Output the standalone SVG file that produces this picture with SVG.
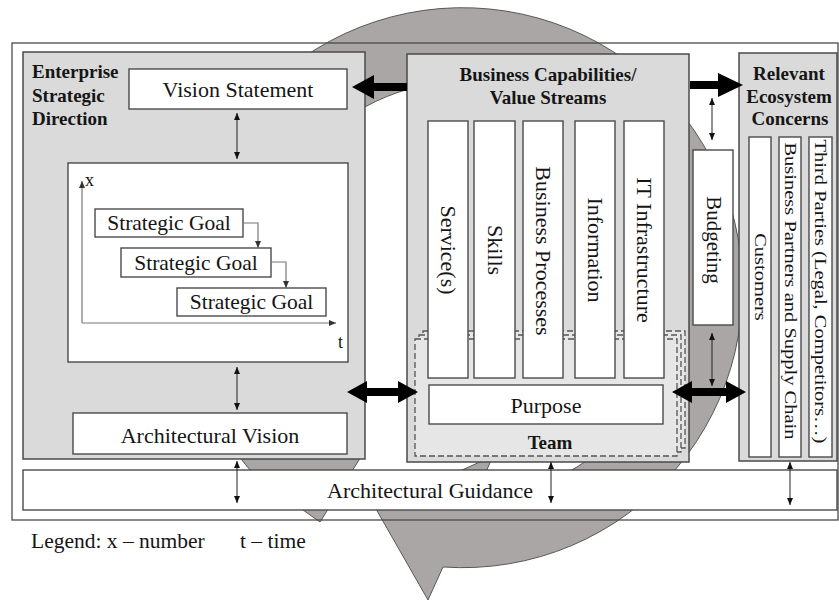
<svg xmlns="http://www.w3.org/2000/svg" width="839" height="602" viewBox="0 0 839 602">
<defs>
<style>
.panel{fill:#dadada;stroke:#4a4a4a;stroke-width:1.5}
.box{fill:#ffffff;stroke:#4a4a4a;stroke-width:1.4}
.t{font-family:"Liberation Serif","Times New Roman",serif;fill:#151515}
.h{font-family:"Liberation Serif","Times New Roman",serif;font-weight:bold;font-size:19px;fill:#151515}
.thin{stroke:#222;stroke-width:1;fill:none;marker-start:url(#ah);marker-end:url(#ah)}
.ax{stroke:#777;stroke-width:1.2;fill:none;marker-end:url(#ag)}
.dash{fill:#e6e6e6;stroke:#555;stroke-width:1.3;stroke-dasharray:6 3}
</style>
<marker id="ah" markerUnits="userSpaceOnUse" markerWidth="8" markerHeight="8" refX="7" refY="3" orient="auto-start-reverse"><path d="M0,0 L7,3 L0,6 z" fill="#111"/></marker>
<marker id="ag" markerUnits="userSpaceOnUse" markerWidth="8" markerHeight="8" refX="7" refY="3" orient="auto"><path d="M0,0 L7,3 L0,6 z" fill="#333"/></marker>
</defs>
<rect width="839" height="602" fill="#ffffff"/>

<g id="cycle-ring">
<path d="M443,567 A280,280 0 1 0 280,500 L296,505 L320,522 L364,452 L337,455 A209,209 0 1 1 474,499 L493,456 L376,509 L428,600 Z" fill="#aaa6a5" stroke="#4a4a4a" stroke-width="0.9"/>
</g>

<g id="frame">
<rect x="12" y="43" width="826" height="477" fill="none" stroke="#4a4a4a" stroke-width="1.3"/>
</g>

<g id="enterprise-strategic-direction">
<rect class="panel" x="23" y="52" width="342" height="407"/>
<text class="h" x="32" y="78">Enterprise</text>
<text class="h" x="32" y="102">Strategic</text>
<text class="h" x="32" y="125">Direction</text>
</g>
<g id="vision-statement">
<rect class="box" x="129" y="69" width="218" height="40"/>
<text class="t" x="238" y="97" font-size="22" text-anchor="middle">Vision Statement</text>
</g>
<g id="strategic-goals">
<rect class="box" x="68" y="163" width="280" height="199"/>
<path class="ax" d="M82,323 L82,181"/>
<path class="ax" d="M82,323 L336,323"/>
<text class="t" x="85" y="186" font-size="18">x</text>
<text class="t" x="338" y="348" font-size="18">t</text>
<rect class="box" x="95" y="209" width="148" height="28"/>
<text class="t" x="169" y="230" font-size="21.5" text-anchor="middle">Strategic Goal</text>
<rect class="box" x="121" y="248" width="150" height="29"/>
<text class="t" x="196" y="270" font-size="21.5" text-anchor="middle">Strategic Goal</text>
<rect class="box" x="177" y="288" width="149" height="28"/>
<text class="t" x="251.5" y="309" font-size="21.5" text-anchor="middle">Strategic Goal</text>
<path class="ax" d="M243,223 L258,223 L258,248"/>
<path class="ax" d="M271,262 L286,262 L286,288"/>
</g>
<g id="architectural-vision">
<rect class="box" x="73" y="413" width="274" height="41"/>
<text class="t" x="210" y="443" font-size="22" text-anchor="middle">Architectural Vision</text>
</g>

<g id="business-capabilities">
<rect class="panel" x="407" y="54" width="282" height="408"/>
<text class="h" x="548" y="81" text-anchor="middle">Business Capabilities/</text>
<text class="h" x="548" y="104" text-anchor="middle">Value Streams</text>
</g>
<g id="team">
<rect class="dash" x="423" y="331" width="262" height="117"/>
<rect class="dash" x="419" y="335" width="262" height="117"/>
<rect class="dash" x="415" y="339" width="262" height="117"/>
<text class="h" x="550" y="449" text-anchor="middle">Team</text>
</g>
<g id="capability-columns">
<rect class="box" x="428" y="121" width="40" height="257"/>
<rect class="box" x="474" y="121" width="41" height="257"/>
<rect class="box" x="523" y="121" width="40" height="257"/>
<rect class="box" x="575" y="121" width="40" height="257"/>
<rect class="box" x="624" y="121" width="40" height="257"/>
<text class="t" font-size="22" text-anchor="middle" transform="translate(441.4,250) rotate(90)">Service(s)</text>
<text class="t" font-size="22" text-anchor="middle" transform="translate(487.9,250) rotate(90)">Skills</text>
<text class="t" font-size="22" text-anchor="middle" transform="translate(536.4,251) rotate(90)">Business Processes</text>
<text class="t" font-size="22" text-anchor="middle" transform="translate(588.4,250) rotate(90)">Information</text>
<text class="t" font-size="22" text-anchor="middle" transform="translate(637.4,250) rotate(90)">IT Infrastructure</text>
</g>
<g id="purpose">
<rect class="box" x="429" y="385" width="234" height="39"/>
<text class="t" x="546" y="413" font-size="22" text-anchor="middle">Purpose</text>
</g>

<g id="budgeting">
<rect class="box" x="693" y="150" width="40" height="175"/>
<text class="t" font-size="21" text-anchor="middle" transform="translate(706.7,240) rotate(90)">Budgeting</text>
</g>

<g id="relevant-ecosystem-concerns">
<rect class="panel" x="739" y="53" width="98" height="408"/>
<text class="h" x="789" y="80" text-anchor="middle">Relevant</text>
<text class="h" x="789" y="103" text-anchor="middle">Ecosystem</text>
<text class="h" x="790" y="125" text-anchor="middle">Concerns</text>
<rect class="box" x="749" y="137" width="22" height="320"/>
<rect class="box" x="779" y="137" width="22" height="320"/>
<rect class="box" x="809" y="137" width="23" height="320"/>
<text class="t" font-size="20.5" text-anchor="middle" transform="translate(754.8,277) rotate(90) scale(1,0.85)">Customers</text>
<text class="t" font-size="20.5" text-anchor="middle" transform="translate(784.8,291) rotate(90) scale(1,0.85)">Business Partners and Supply Chain</text>
<text class="t" font-size="20.5" text-anchor="middle" transform="translate(815.3,291.5) rotate(90) scale(1,0.85)">Third Parties (Legal, Competitors…)</text>
</g>

<g id="architectural-guidance">
<rect class="box" x="23" y="470" width="814" height="40"/>
<text class="t" x="430" y="498" font-size="22" text-anchor="middle">Architectural Guidance</text>
</g>

<g id="connectors">
<polygon points="352,87 374,75 374,83 407,83 407,91 374,91 374,99" fill="#000"/>
<polygon points="690,81 718,81 718,73 743,85 718,97 718,89 690,89" fill="#000"/>
<polygon points="347,392 367,381 367,388 398,388 398,381 418,392 398,403 398,396 367,396 367,403" fill="#000"/>
<polygon points="672,392 692,381 692,388 726,388 726,381 746,392 726,403 726,396 692,396 692,403" fill="#000"/>
<path class="thin" d="M237,113 L237,159"/>
<path class="thin" d="M237,367 L237,410"/>
<path class="thin" d="M237,461 L237,503"/>
<path class="thin" d="M551,462 L551,503"/>
<path class="thin" d="M790,462 L790,505"/>
<path class="thin" d="M712,98 L712,140"/>
<path class="thin" d="M712,333 L712,386"/>
</g>

<g id="legend">
<text class="t" x="31" y="548" font-size="21.5">Legend: x – number</text>
<text class="t" x="240" y="548" font-size="21.5">t – time</text>
</g>
</svg>
